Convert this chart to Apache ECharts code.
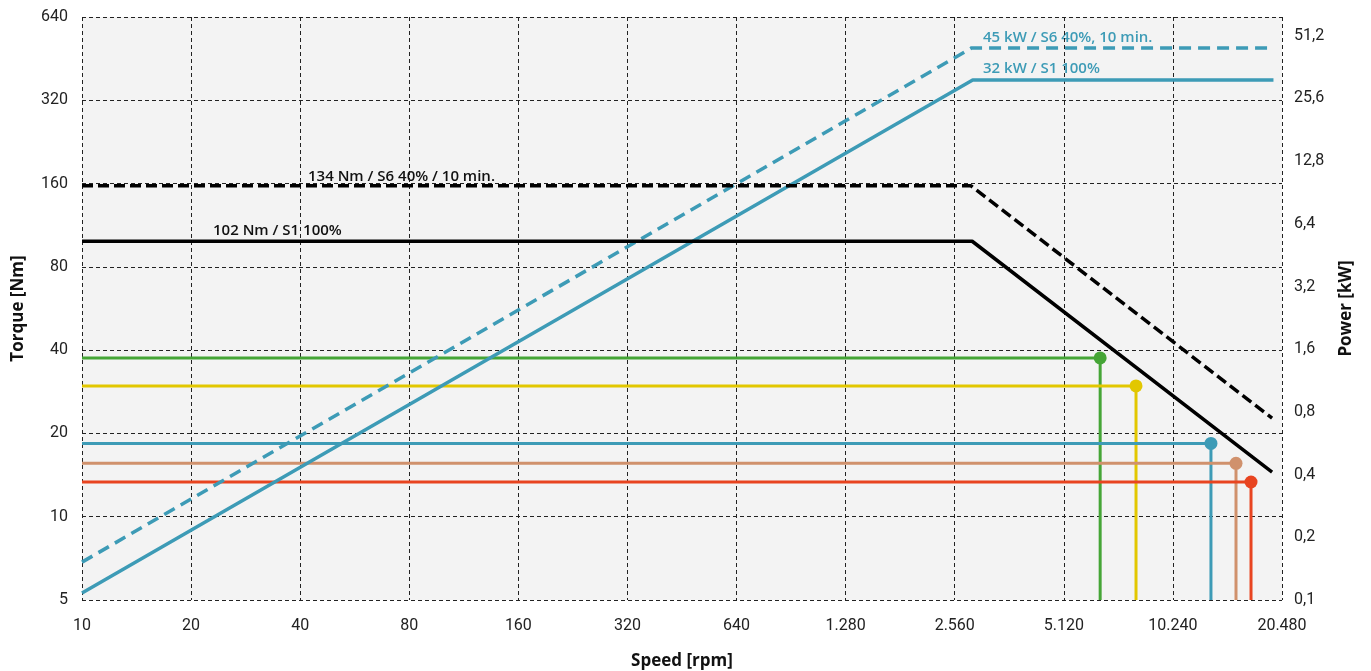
<!DOCTYPE html>
<html>
	<head>
		<meta charset="utf-8">
		<title>Torque / Power</title>
		<script src="https://cdn.jsdelivr.net/npm/echarts@6/dist/echarts.min.js"></script>
	</head>
	<body style="margin: 0px;">
		<div id="main" style="width: 1371px;height:671px;"></div>
		<script type="text/javascript">
			// tick labels (log2 axes)
			var speedTicks = ['10', '20', '40', '80', '160', '320', '640', '1.280', '2.560', '5.120', '10.240', '20.480'];
			var torqueTicks = ['5', '10', '20', '40', '80', '160', '320', '640'];
			var powerTicks = ['0,1', '0,2', '0,4', '0,8', '1,6', '3,2', '6,4', '12,8', '25,6', '51,2'];

			// torque curves [rpm, Nm]
			var torqueS1 = [[10, 99], [2860, 99], [19230, 14.5]];
			var torqueS6 = [[10, 157], [2840, 157], [19230, 22.7]];
			// power curves [rpm, kW]
			var powerS1 = [[10, 0.108], [2870, 31.4], [19400, 31.4]];
			var powerS6 = [[10, 0.152], [2850, 44.8], [19400, 44.8]];

			// operating points
			var opNames = ['green', 'yellow', 'blue', 'tan', 'red'];
			var opSpeed = [6450, 8100, 13040, 15290, 16820];
			var opTorque = [37.5, 29.7, 18.4, 15.6, 13.35];
			var opColors = ['#45a536', '#e2c700', '#3d9bb6', '#d0916c', '#e84420'];

			var blue = '#3d9bb6';

			function lx(v) { return Math.log2(v / 10); }
			function lt(v) { return Math.log2(v / 5); }
			function lp(v) { return Math.log2(v / 0.1); }

			var series = [];
			opNames.forEach(function(n, i) {
				series.push({
					name: n,
					type: 'line',
					yAxisIndex: 0,
					symbolSize: 13,
					itemStyle: { color: opColors[i] },
					lineStyle: { color: opColors[i], width: 3 },
					data: [
						{ value: [lx(10), lt(opTorque[i])], symbol: 'none' },
						{ value: [lx(opSpeed[i]), lt(opTorque[i])], symbol: 'circle' },
						{ value: [lx(opSpeed[i]), lt(5)], symbol: 'none' }
					]
				});
			});
			series.push({
				name: 'P S6', type: 'line', yAxisIndex: 1, symbol: 'none',
				lineStyle: { color: blue, width: 3.5, type: [12, 7] },
				data: powerS6.map(function(d) { return [lx(d[0]), lp(d[1])]; })
			});
			series.push({
				name: 'P S1', type: 'line', yAxisIndex: 1, symbol: 'none',
				lineStyle: { color: blue, width: 3.5 },
				data: powerS1.map(function(d) { return [lx(d[0]), lp(d[1])]; })
			});
			series.push({
				name: 'T S6', type: 'line', yAxisIndex: 0, symbol: 'none',
				lineStyle: { color: '#000', width: 3.5, type: [11, 5] },
				data: torqueS6.map(function(d) { return [lx(d[0]), lt(d[1])]; })
			});
			series.push({
				name: 'T S1', type: 'line', yAxisIndex: 0, symbol: 'none',
				lineStyle: { color: '#000', width: 3.5 },
				data: torqueS1.map(function(d) { return [lx(d[0]), lt(d[1])]; })
			});

			var gridLine = { show: true, lineStyle: { color: '#222', width: 1, type: [4, 3] } };
			var nameStyle = { fontFamily: 'Open Sans', fontWeight: 'bold', fontSize: 17, color: '#111' };
			var labelStyle = { fontFamily: 'Roboto', fontSize: 16, color: '#222' };
			var noteFont = '600 15px "Open Sans"';

			var chart = echarts.init(document.getElementById('main'));
			chart.setOption({
				animation: false,
				backgroundColor: '#fff',
				grid: {
					left: 82, right: 89, top: 17, bottom: 71,
					outerBoundsMode: 'none',
					show: true, backgroundColor: '#f3f3f3', borderWidth: 0
				},
				xAxis: {
					type: 'value', min: 0, max: 11, interval: 1,
					name: 'Speed [rpm]', nameLocation: 'middle', nameGap: 53, nameTextStyle: nameStyle,
					axisLine: { show: false }, axisTick: { show: false },
					axisLabel: Object.assign({ margin: 18, formatter: function(v) { return speedTicks[v] || ''; } }, labelStyle),
					splitLine: gridLine
				},
				yAxis: [{
					type: 'value', min: 0, max: 7, interval: 1,
					name: 'Torque [Nm]', nameLocation: 'middle', nameGap: 55, nameTextStyle: nameStyle,
					axisLine: { show: false }, axisTick: { show: false },
					axisLabel: Object.assign({ margin: 14, formatter: function(v) { return torqueTicks[v] || ''; } }, labelStyle),
					splitLine: gridLine
				}, {
					type: 'value', min: 0, max: 9.3, interval: 1, position: 'right',
					name: 'Power [kW]', nameLocation: 'middle', nameGap: 56, nameTextStyle: nameStyle,
					axisLine: { show: false }, axisTick: { show: false },
					axisLabel: Object.assign({ margin: 12, showMaxLabel: false, formatter: function(v) { return Number.isInteger(v) ? (powerTicks[v] || '') : ''; } }, labelStyle),
					splitLine: { show: false }
				}],
				graphic: [
					{ type: 'text', x: 983, y: 38, style: { text: '45 kW / S6 40%, 10 min.', fill: blue, font: noteFont, verticalAlign: 'middle' } },
					{ type: 'text', x: 983, y: 69, style: { text: '32 kW / S1 100%', fill: blue, font: noteFont, verticalAlign: 'middle' } },
					{ type: 'text', x: 308, y: 177, style: { text: '134 Nm / S6 40% / 10 min.', fill: '#111', font: noteFont, verticalAlign: 'middle' } },
					{ type: 'text', x: 213, y: 231, style: { text: '102 Nm / S1 100%', fill: '#111', font: noteFont, verticalAlign: 'middle' } }
				],
				series: series
			});
		</script>
	</body>
</html>
